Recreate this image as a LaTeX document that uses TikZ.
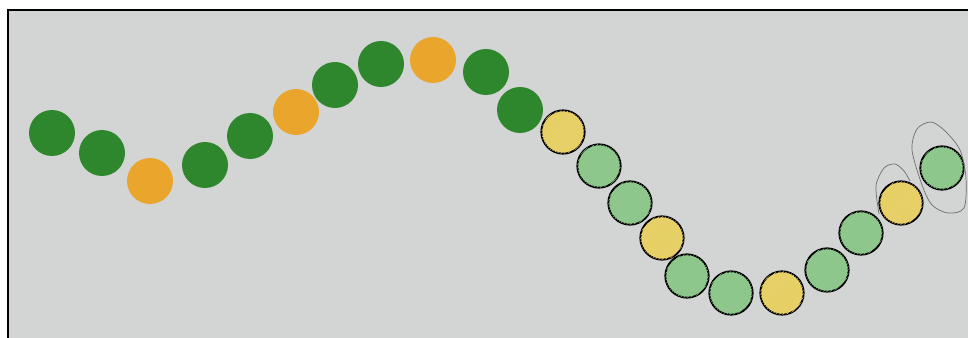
\documentclass[tikz,border=0pt]{standalone}
\usetikzlibrary{patterns}
\usepackage{xcolor}
\definecolor{board}{HTML}{D3D5D4}
\definecolor{dotgreen}{HTML}{2F872D}
\definecolor{dotorange}{HTML}{EAA52C}
\definecolor{crayongreen}{HTML}{8FCB8C}
\definecolor{crayonyellow}{HTML}{E3D35E}
\definecolor{pencil}{HTML}{6E6E6E}

\begin{document}
\begin{tikzpicture}[x=0.03cm,y=-0.03cm,
  dot/.style={circle,inner sep=0pt,minimum size=1.38cm},
  ring/.style={circle,draw=black,line width=1.6pt,inner sep=0pt,minimum size=1.3cm},
  gring/.style={ring,fill=crayongreen,postaction={pattern=north east lines,pattern color=dotgreen!55}},
  yring/.style={ring,fill=crayonyellow,postaction={pattern=north east lines,pattern color=dotorange!60}}]
  \useasboundingbox (0,0) rectangle (968,338);

  % Photo of the board
  \fill[white] (0,0) rectangle (968,338);
  \fill[board] (8,10) rectangle (968,338);
  \draw[black,line width=2pt] (8,338) -- (8,10) -- (968,10);

  % Stuck-on dots
  \node[dot,fill=dotgreen] (d1) at (52,133) {};
  \node[dot,fill=dotgreen] (d2) at (102,153) {};
  \node[dot,fill=dotorange] (d3) at (150,181) {};
  \node[dot,fill=dotgreen] (d4) at (205,165) {};
  \node[dot,fill=dotgreen] (d5) at (250,136) {};
  \node[dot,fill=dotorange] (d6) at (296,112) {};
  \node[dot,fill=dotgreen] (d7) at (335,85) {};
  \node[dot,fill=dotgreen] (d8) at (381,64) {};
  \node[dot,fill=dotorange] (d9) at (433,60) {};
  \node[dot,fill=dotgreen] (d10) at (486,72) {};
  \node[dot,fill=dotgreen] (d11) at (520,110) {};

  % Coloured-in rings
  \node[yring] (r1) at (563,132) {};
  \node[gring] (r2) at (599,166) {};
  \node[gring] (r3) at (630,203) {};
  \node[yring] (r4) at (662,238) {};
  \node[gring] (r5) at (687,276) {};
  \node[gring] (r6) at (731,293) {};
  \node[yring] (r7) at (782,293) {};
  \node[gring] (r8) at (827,270) {};
  \node[gring] (r9) at (861,233) {};
  \node[yring] (r10) at (901,203) {};
  \node[gring] (r11) at (942,168) {};

  % Pencil loops
  \draw[pencil,line width=0.6pt] plot[smooth cycle] coordinates
    {(912,150) (917,129) (931,122) (945,131) (960,150) (966,178) (964,208) (948,213) (932,205) (922,185)};
  \draw[pencil,line width=0.6pt] plot[smooth] coordinates
    {(879,214) (876,186) (884,168) (895,164) (904,171) (910,181)};
\end{tikzpicture}
\end{document}
